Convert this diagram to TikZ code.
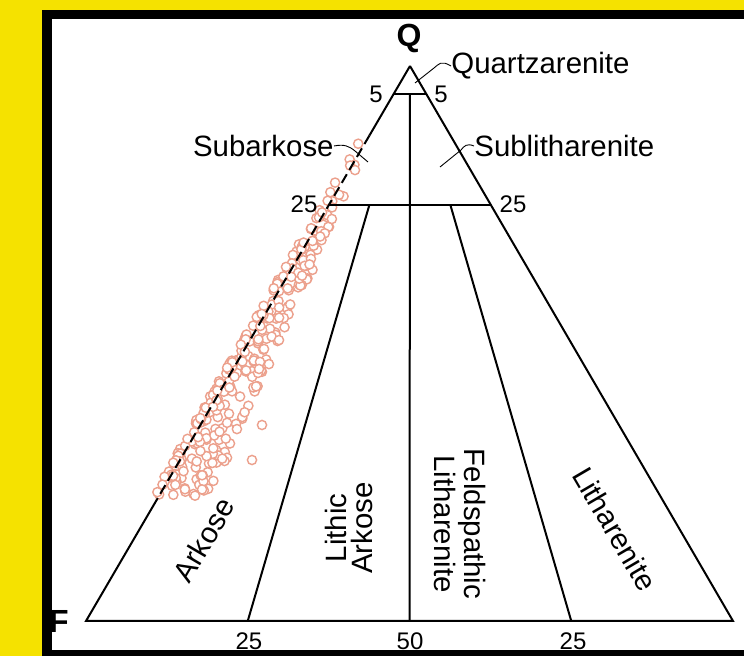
\documentclass[tikz,border=0pt]{standalone}
\usepackage{fontspec}
\setmainfont{Liberation Sans}
\usepackage{tikz}
\usetikzlibrary{calc}
\definecolor{frameyellow}{RGB}{245,226,0}
\definecolor{grainred}{RGB}{236,160,140}

\begin{document}
\begin{tikzpicture}[
  x=0.5pt, y=-0.5pt,
  field/.style={font=\fontsize{14.7}{12.6}\selectfont, align=center, inner sep=0pt},
  num/.style={font=\fontsize{12}{12}\selectfont, inner sep=0pt},
  pole/.style={font=\fontsize{16}{16}\selectfont\bfseries, inner sep=0pt},
  edge/.style={line width=1pt},
  leader/.style={line width=0.45pt},
  grain/.style={draw=grainred, fill=white, line width=0.7pt}
]
  \fill[frameyellow] (0,0) rectangle (744,656);
  \fill[black] (42,10) rectangle (744,656);
  \fill[white] (52,19) rectangle (744,650);
  \useasboundingbox (0,0) rectangle (744,656);

  \coordinate (Q) at (410,66);
  \coordinate (F) at (86,621);
  \coordinate (L) at (733,621);
  \coordinate (q5F) at ($(Q)!0.05!(F)$);
  \coordinate (q5L) at ($(Q)!0.05!(L)$);
  \coordinate (q25F) at ($(Q)!0.25!(F)$);
  \coordinate (q25L) at ($(Q)!0.25!(L)$);
  \coordinate (dashtop) at ($(Q)!0.125!(F)$);
  \coordinate (dashend) at ($(Q)!0.78!(F)$);

  \node[pole] (qlabel) at (409,38) {Q};
  \node[pole, anchor=east] (flabel) at (69,621) {F};

  \pgfmathsetseed{7}
  \foreach \i in {1,...,300}{
    \pgfmathsetmacro\yy{142+355*(rnd)^0.55}
    \pgfmathsetmacro\ww{12+46*(\yy-142)/355}
    \pgfmathsetmacro\xx{410-0.5838*(\yy-66)-7+\ww*(rnd)^1.5}
    \draw[grain] (\xx,\yy) circle[radius=4.6];
  }
  \draw[grain] (262,425) circle[radius=4.6];
  \draw[grain] (252,460) circle[radius=4.6];

  \draw[edge] (Q) -- (dashtop);
  \draw[edge, dash pattern=on 5pt off 2.5pt] (dashtop) -- (dashend);
  \draw[edge] (dashend) -- (F) -- (L) -- (Q);
  \draw[edge] (q5F) -- (q5L);
  \draw[edge] (q25F) -- (q25L);
  \draw[edge] ($(q5F)!0.5!(q5L)$) -- ($(F)!0.5!(L)$);
  \draw[edge] ($(q25F)!0.25!(q25L)$) -- ($(F)!0.25!(L)$);
  \draw[edge] ($(q25F)!0.75!(q25L)$) -- ($(F)!0.75!(L)$);

  \node[num] (n5l) at (376,94) {5};
  \node[num] (n5r) at (441,94) {5};
  \node[num] (n25l) at (304,204) {25};
  \node[num] (n25r) at (513,204) {25};
  \node[num] (b25l) at (249,641) {25};
  \node[num] (b50) at (410,641) {50};
  \node[num] (b25r) at (573,641) {25};

  \node[field, anchor=west] (quartz) at (451,66) {Quartzarenite};
  \node[field, anchor=east] (subark) at (334,146) {Subarkose};
  \node[field, anchor=west] (sublith) at (474,146) {Sublitharenite};
  \node[field, rotate=59.6] (arkose) at (204,540) {Arkose};
  \node[field, rotate=90] (lithark) at (349,528) {Lithic\\Arkose};
  \node[field, rotate=-90] (feldlith) at (460,524) {Feldspathic\\Litharenite};
  \node[field, rotate=-59.6] (lithar) at (615,529) {Litharenite};

  \coordinate (quartztip) at (415,83);
  \coordinate (subarktip) at (368,162);
  \coordinate (sublithtip) at (440,167);
  \draw[leader] (quartz.west) .. controls (441,60) and (439,64) .. (434,68) -- (quartztip);
  \draw[leader] (subark.east) .. controls (344,144) and (349,146) .. (355,151) -- (subarktip);
  \draw[leader] (sublith.west) .. controls (467,143) and (464,146) .. (461,150) -- (sublithtip);

  \fill[black] (42,10) rectangle (52,656);
\end{tikzpicture}
\end{document}
